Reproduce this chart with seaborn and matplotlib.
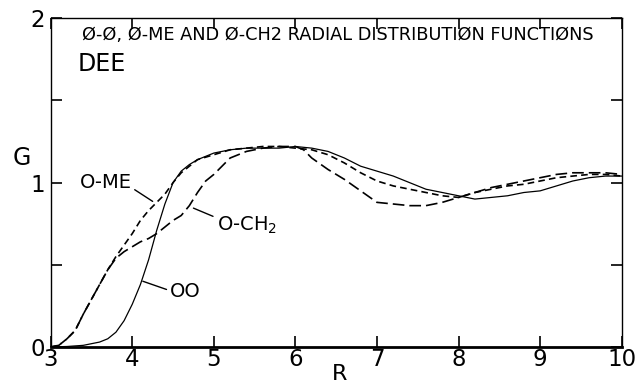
import numpy as np
import pandas as pd
import matplotlib
matplotlib.use("Agg")
import matplotlib.pyplot as plt
import seaborn as sns

# ---- data ----
r_oo = [3.0, 3.2, 3.4, 3.6, 3.7, 3.8, 3.9, 4.0, 4.1, 4.2, 4.3, 4.4, 4.5, 4.6, 4.7, 4.8,
        5.0, 5.2, 5.4, 5.6, 5.8, 6.0, 6.2, 6.4, 6.6, 6.8, 7.0, 7.2, 7.4, 7.6, 7.8, 8.0,
        8.2, 8.4, 8.6, 8.8, 9.0, 9.2, 9.4, 9.6, 9.8, 10.0]
g_oo = [0.0, 0.003, 0.01, 0.03, 0.05, 0.09, 0.16, 0.26, 0.38, 0.53, 0.71, 0.87, 1.0, 1.07,
        1.11, 1.14, 1.18, 1.20, 1.21, 1.21, 1.21, 1.22, 1.21, 1.19, 1.15, 1.10, 1.07, 1.04,
        1.00, 0.96, 0.94, 0.92, 0.90, 0.91, 0.92, 0.94, 0.95, 0.98, 1.01, 1.03, 1.04, 1.04]

r_ome = [3.0, 3.1, 3.2, 3.3, 3.4, 3.5, 3.6, 3.7, 3.8, 3.9, 4.0, 4.1, 4.2, 4.3, 4.4, 4.5,
         4.6, 4.7, 4.8, 5.0, 5.2, 5.4, 5.6, 5.8, 6.0, 6.2, 6.4, 6.6, 6.8, 7.0, 7.2, 7.4,
         7.6, 7.8, 8.0, 8.2, 8.4, 8.6, 8.8, 9.0, 9.2, 9.4, 9.6, 9.8, 10.0]
g_ome = [0.0, 0.01, 0.05, 0.10, 0.20, 0.29, 0.38, 0.47, 0.55, 0.62, 0.69, 0.77, 0.83, 0.88,
         0.93, 1.0, 1.06, 1.10, 1.14, 1.17, 1.20, 1.21, 1.22, 1.22, 1.21, 1.20, 1.17, 1.12,
         1.06, 1.01, 0.98, 0.96, 0.94, 0.92, 0.91, 0.94, 0.96, 0.98, 0.99, 1.01, 1.03, 1.04,
         1.05, 1.05, 1.04]

r_och2 = [3.0, 3.1, 3.2, 3.3, 3.4, 3.5, 3.6, 3.7, 3.8, 3.9, 4.0, 4.1, 4.2, 4.3, 4.4, 4.5,
          4.6, 4.7, 4.8, 4.9, 5.0, 5.2, 5.4, 5.6, 5.8, 6.0, 6.1, 6.2, 6.4, 6.6, 6.8, 7.0,
          7.2, 7.4, 7.6, 7.8, 8.0, 8.2, 8.4, 8.6, 8.8, 9.0, 9.2, 9.4, 9.6, 9.8, 10.0]
g_och2 = [0.0, 0.01, 0.05, 0.10, 0.20, 0.29, 0.38, 0.47, 0.54, 0.58, 0.61, 0.64, 0.66, 0.69,
          0.73, 0.77, 0.80, 0.86, 0.94, 1.01, 1.05, 1.15, 1.19, 1.21, 1.22, 1.22, 1.20, 1.15,
          1.08, 1.02, 0.95, 0.88, 0.87, 0.86, 0.86, 0.88, 0.91, 0.94, 0.97, 0.99, 1.01, 1.03,
          1.05, 1.06, 1.06, 1.06, 1.05]

series_names = ["OO", "O-ME", "O-CH2"]
x_ticks = [3, 4, 5, 6, 7, 8, 9, 10]
y_ticks = [0, 1, 2]
title = "Ø-Ø, Ø-ME AND Ø-CH2 RADIAL DISTRIBUTIØN FUNCTIØNS"

df = pd.concat([
    pd.DataFrame({"R": r_oo, "G": g_oo, "pair": series_names[0]}),
    pd.DataFrame({"R": r_ome, "G": g_ome, "pair": series_names[1]}),
    pd.DataFrame({"R": r_och2, "G": g_och2, "pair": series_names[2]}),
], ignore_index=True)

sns.set_style("ticks")
plt.rcParams["font.family"] = ["DejaVu Sans"]
plt.rcParams["text.color"] = "black"
plt.rcParams["xtick.color"] = "black"
plt.rcParams["ytick.color"] = "black"
plt.rcParams["xtick.labelcolor"] = "black"
plt.rcParams["ytick.labelcolor"] = "black"

fig = plt.figure(figsize=(6.35, 3.87), dpi=100)
ax = fig.add_axes([0.0798, 0.1034, 0.8993, 0.8493])

sns.lineplot(data=df, x="R", y="G", hue="pair", style="pair",
             palette={"OO": "black", "O-ME": "black", "O-CH2": "black"},
             dashes={"OO": "", "O-ME": (4, 2.5), "O-CH2": (7, 3)},
             sort=False, estimator=None, legend=False, ax=ax)
for ln, lw in zip(ax.lines, [0.9, 1.2, 1.2]):
    ln.set_linewidth(lw)

ax.set_xlim(3, 10)
ax.set_ylim(0, 2)
ax.set_xticks(x_ticks)
ax.set_xticklabels([str(t) for t in x_ticks])
ax.set_yticks(y_ticks)
ax.set_yticklabels([str(t) for t in y_ticks])
ax.set_yticks([0.5, 1.5], minor=True)
ax.tick_params(axis="both", which="both", direction="in", top=True, right=True,
               labelsize=16.5, pad=1, width=1.2, color="black", labelcolor="black")
ax.tick_params(axis="both", which="major", length=8)
ax.tick_params(axis="y", which="minor", length=8)
ax.tick_params(axis="y", pad=4)
for s in ["left", "right", "top"]:
    ax.spines[s].set_linewidth(1.0)
    ax.spines[s].set_color("black")
ax.spines["bottom"].set_linewidth(2.0)
ax.spines["bottom"].set_color("black")

ax.set_xlabel("")
ax.set_ylabel("")
ax.text(-0.05, 0.575, "G", transform=ax.transAxes, fontsize=17, ha="center", va="center",
        color="black")
fig.text(340 / 635, 1 - 374 / 387, "R", fontsize=16, ha="center", va="center", color="black")

ax.text(0.503, 0.948, title, transform=ax.transAxes, fontsize=12.8, ha="center", va="center",
        color="black")
ax.text(3.33, 1.72, "DEE", fontsize=17, ha="left", va="center", color="black")

ax.text(3.36, 1.0, "O-ME", fontsize=14, ha="left", va="center", color="black")
ax.plot([4.03, 4.25], [0.957, 0.886], color="black", lw=1.0)
ax.text(5.04, 0.74, "O-CH$_2$", fontsize=14, ha="left", va="center", color="black")
ax.plot([4.75, 4.99], [0.845, 0.795], color="black", lw=1.0)
ax.text(4.46, 0.337, "OO", fontsize=14, ha="left", va="center", color="black")
ax.plot([4.13, 4.42], [0.40, 0.35], color="black", lw=1.0)

fig.savefig("out.png", dpi=100, facecolor="white")
